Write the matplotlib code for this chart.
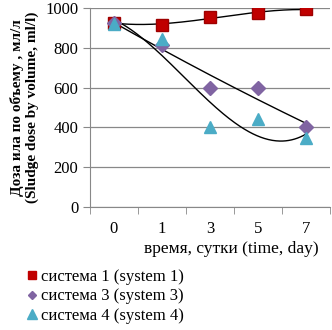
import numpy as np
import matplotlib.pyplot as plt
from matplotlib.lines import Line2D

days = ['0', '1', '3', '5', '7']
system1 = [925, 915, 955, 973, 993]
system3 = [925, 815, 600, 600, 400]
system4 = [920, 845, 400, 440, 345]

plt.rcParams['font.family'] = ['Liberation Serif', 'DejaVu Serif']

fig = plt.figure(figsize=(3.32, 3.30), dpi=100)
ax = fig.add_axes([0.271, 0.373, 0.723, 0.603])

x = np.arange(len(days))
xs = np.linspace(0, len(days) - 1, 200)

# trend lines (polynomial, like Excel)
for vals, deg in [(system1, 3), (system3, 2), (system4, 3)]:
    p = np.polyfit(x, vals, deg)
    ax.plot(xs, np.polyval(p, xs), color='black', lw=1.0, zorder=2)

ax.plot(x, system1, 's', color='#C00000', markeredgecolor='#9E0000', ms=8.5, zorder=3)
ax.plot(x, system3, 'D', color='#8064A2', markeredgecolor='#8064A2', ms=7, zorder=3)
ax.plot(x, system4, '^', color='#4BACC6', markeredgecolor='#4BACC6', ms=9, zorder=3)

ax.set_xlim(-0.5, len(days) - 0.5)
ax.set_ylim(0, 1000)
ax.set_yticks(range(0, 1001, 200))
ax.set_xticks(x)
ax.set_xticklabels(days)
ax.set_xticks(np.arange(-0.5, len(days)), minor=True)
ax.tick_params(axis='x', which='major', length=0, labelsize=12, pad=10)
ax.tick_params(axis='x', which='minor', length=5, color='#888888', direction='out')
ax.tick_params(axis='y', length=5, color='#888888', labelsize=12)
ax.grid(axis='y', color='#888888', lw=0.9)
ax.set_axisbelow(True)
for s in ['top', 'right']:
    ax.spines[s].set_visible(False)
for s in ['left', 'bottom']:
    ax.spines[s].set_color('#888888')

ax.set_xlabel('время, сутки (time, day)', fontsize=12.5)
ax.xaxis.set_label_coords(0.59, -0.17)
ax.set_ylabel('Доза ила по объему , мл/л\n(Sludge dose by volume, ml/l)',
              fontsize=11, fontweight='bold', labelpad=4)

handles = [
    Line2D([], [], ls='none', marker='s', color='#C00000', ms=5.5),
    Line2D([], [], ls='none', marker='D', color='#8064A2', ms=4.5),
    Line2D([], [], ls='none', marker='^', color='#4BACC6', ms=6.5),
]
labels = ['система 1 (system 1)', 'система 3 (system 3)', 'система 4 (system 4)']
fig.legend(handles, labels, loc='upper left', bbox_to_anchor=(0.052, 0.21),
           frameon=False, fontsize=12, handletextpad=0.1, labelspacing=0.2,
           borderpad=0, handlelength=0.8)

fig.savefig('out.png', dpi=100)
